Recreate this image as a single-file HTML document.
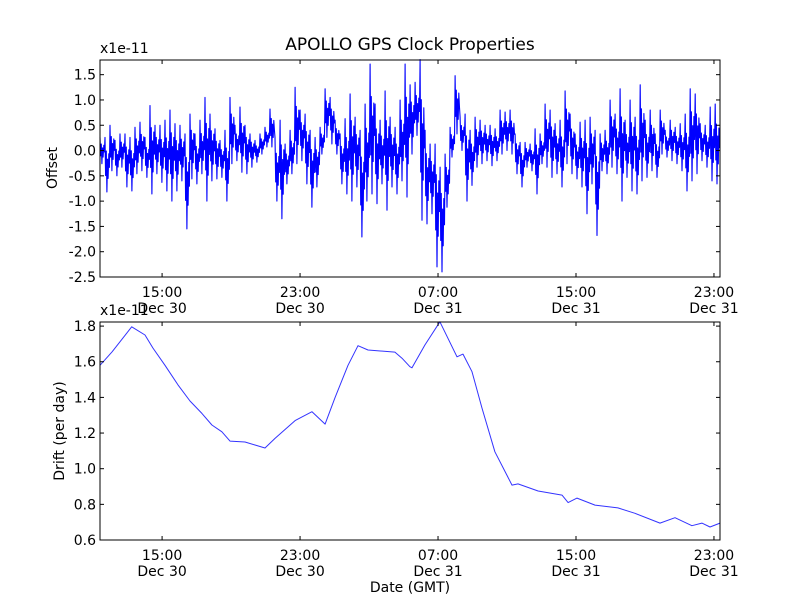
<!DOCTYPE html>
<html><head><meta charset="utf-8"><style>
body{margin:0;background:#fff;}
svg text{font-family:"DejaVu Sans","Liberation Sans",sans-serif;fill:#000;}
</style></head><body>
<svg id="chart" width="800" height="600" viewBox="0 0 800 600" xmlns="http://www.w3.org/2000/svg">
<rect width="800" height="600" fill="#fff"/>
<text x="410" y="50" font-size="17" text-anchor="middle">APOLLO GPS Clock Properties</text>
<text x="100" y="53" font-size="14">x1e-11</text>
<text x="100" y="315" font-size="14">x1e-11</text>
<text transform="translate(57,168) rotate(-90)" font-size="14" text-anchor="middle">Offset</text>
<text transform="translate(64,431) rotate(-90)" font-size="14" text-anchor="middle">Drift (per day)</text>
<text x="410" y="592" font-size="14" text-anchor="middle">Date (GMT)</text>
<g id="top"></g>
<g id="bot"></g>
</svg>
<script>
const xTickHours=[15,23,31,39,47];
const xTickTimes=["15:00","23:00","07:00","15:00","23:00"];
const xTickDates=["Dec 30","Dec 30","Dec 31","Dec 31","Dec 31"];
const offsetTicks=[1.5,1.0,0.5,0.0,-0.5,-1.0,-1.5,-2.0,-2.5];
const driftTicks=[1.8,1.6,1.4,1.2,1.0,0.8,0.6];
const offsetStart=11.4, offsetStep=0.29;
const offsetHi=[0.26,0.26,0.5,0.2,0.33,0.33,0.26,0.46,0.56,0.26,0.89,0.5,0.5,0.6,0.8,0.53,0.5,0.33,0.72,0.33,0.6,1.05,0.72,0.43,0.2,0.4,1.05,0.5,0.86,0.5,0.33,0.2,0.33,0.46,0.82,0.26,0.6,0.13,0.4,1.25,0.8,0.72,0.4,0.26,0.46,1.22,1.05,0.6,0.33,0.63,1.12,0.66,0.4,0.92,1.71,0.92,0.6,1.18,0.66,0.46,1.0,1.71,1.3,
1.35,1.8,0.4,0.13,0.13,-0.33,-0.07,0.46,1.48,0.66,0.72,0.4,0.66,0.6,0.5,0.5,0.43,0.8,0.76,0.8,0.33,0.16,0.16,0.13,0.43,0.33,0.92,0.8,0.53,0.6,1.18,0.72,0.33,0.56,0.6,0.66,0.4,0.33,0.4,1.0,0.72,1.22,0.6,1.0,0.66,1.3,0.6,0.8,0.33,0.8,0.4,0.6,0.46,0.53,0.72,1.22,1.12,0.53,0.5,0.86,0.92];
const offsetLo=[-0.26,-0.82,-0.4,-0.5,-0.33,-0.72,-0.8,-0.46,-0.4,-0.53,-0.86,-0.46,-0.63,-0.8,-1.0,-0.8,-0.6,-1.55,-0.56,-0.66,-0.46,-1.0,-0.6,-0.56,-0.53,-1.0,-0.26,-0.2,-0.43,-0.46,-0.33,-0.23,-0.07,0.07,0.07,-1.0,-1.35,-0.66,-0.46,-0.26,-0.2,-0.66,-1.12,-0.72,-0.07,0.26,0.13,-0.07,-0.66,-0.86,-1.0,-0.72,-1.71,-1.0,-0.86,-1.05,-0.66,-1.18,-0.72,-0.86,-0.6,-0.92,-0.07,
0.3,-1.38,-1.45,-1.25,-2.3,-2.4,-1.12,-0.13,0.33,0.0,-1.0,-0.69,-0.33,-0.26,-0.2,-0.3,-0.2,-0.07,0.0,-0.07,-0.46,-0.72,-0.33,-0.4,-0.86,-0.26,-0.33,-0.53,-0.46,-0.72,-0.26,-0.46,-0.56,-0.72,-1.25,-0.66,-1.68,-0.4,-0.46,-0.33,-0.46,-1.0,-0.53,-0.8,-0.86,-0.6,-0.53,-0.4,-0.53,-0.07,-0.13,-0.2,-0.26,-0.4,-0.8,-0.6,-0.46,-0.2,-0.33,-0.6,-0.66];
const driftHours=[11.40,12.10,13.24,14.01,14.47,15.17,15.92,16.62,17.31,17.89,18.47,18.94,19.81,20.39,20.97,21.55,22.71,23.69,24.45,25.03,25.78,26.36,26.94,28.50,28.91,29.37,29.49,30.24,31.11,32.10,32.45,32.97,33.55,34.30,35.29,35.64,36.80,38.19,38.54,39.06,40.10,41.43,42.42,43.87,44.74,45.72,46.30,46.77,47.35];
const driftValues=[1.58,1.656,1.796,1.75,1.677,1.58,1.47,1.38,1.31,1.245,1.207,1.155,1.15,1.133,1.116,1.17,1.27,1.32,1.25,1.40,1.58,1.69,1.666,1.654,1.62,1.572,1.566,1.694,1.824,1.628,1.643,1.544,1.34,1.095,0.908,0.915,0.875,0.852,0.81,0.835,0.796,0.78,0.75,0.695,0.725,0.68,0.695,0.673,0.695];

const NS="http://www.w3.org/2000/svg";
const X0=100,X1=720,T0=11.4,T1=47.35;
const xs=t=>X0+(t-T0)/(T1-T0)*(X1-X0);
function mk(tag,attrs,parent){const e=document.createElementNS(NS,tag);for(const k in attrs)e.setAttribute(k,attrs[k]);parent.appendChild(e);return e;}
function panel(g,top,bot,vmin,vmax,ticks,fmt,pathD,lw,pname,col){
  const ys=v=>bot-(v-vmin)/(vmax-vmin)*(bot-top);
  const p=mk('path',{d:pathD(ys),fill:'none',stroke:col,'stroke-width':lw,'stroke-linejoin':'round'},g);
  
  
  const fr=mk('rect',{x:X0,y:top,width:X1-X0,height:bot-top,fill:'none',stroke:'#000','stroke-width':1},g);
  
  
  ticks.forEach(v=>{const y=ys(v);
    mk('line',{x1:X0,x2:X0+4,y1:y,y2:y,stroke:'#000'},g);
    mk('line',{x1:X1-4,x2:X1,y1:y,y2:y,stroke:'#000'},g);
    const t=mk('text',{x:X0-4,y:y+5,'font-size':14,'text-anchor':'end'},g);
    t.textContent=fmt(v);
    
    
  });
  xTickHours.forEach((h,i)=>{const x=xs(h);
    mk('line',{x1:x,x2:x,y1:bot,y2:bot-4,stroke:'#000'},g);
    mk('line',{x1:x,x2:x,y1:top,y2:top+4,stroke:'#000'},g);
    const t=mk('text',{x:x,y:bot+20,'font-size':14,'text-anchor':'middle'},g);
    t.textContent=xTickTimes[i];
    
    
    const d=mk('text',{x:x,y:bot+36,'font-size':14,'text-anchor':'middle'},g);
    d.textContent=xTickDates[i];
    
    
  });
}
panel(document.getElementById('top'),60,277,-2.5,1.79,offsetTicks,v=>v.toFixed(1),ys=>{
  let d='';
  offsetHi.forEach((h,i)=>{
    const lo=offsetLo[i], m=(h+lo)/2, a=(h-lo)/2;
    const t=offsetStart+i*offsetStep, s=offsetStep/8;
    const pts=[h, m-0.4*a, m+0.5*a, lo, m+0.2*a, m-0.5*a, m+0.4*a, m-0.1*a];
    pts.forEach((v,k)=>{d+=((i||k)?'L':'M')+xs(t+k*s).toFixed(1)+' '+ys(v).toFixed(1);});
  });return d;},1.1,'offset-line','#0000ff');
panel(document.getElementById('bot'),322,540,0.6,1.823,driftTicks,v=>v.toFixed(1),ys=>
  driftHours.map((h,i)=>(i?'L':'M')+xs(h).toFixed(1)+' '+ys(driftValues[i]).toFixed(1)).join(''),1,'drift-line','#3333ff');
</script>
</body></html>
